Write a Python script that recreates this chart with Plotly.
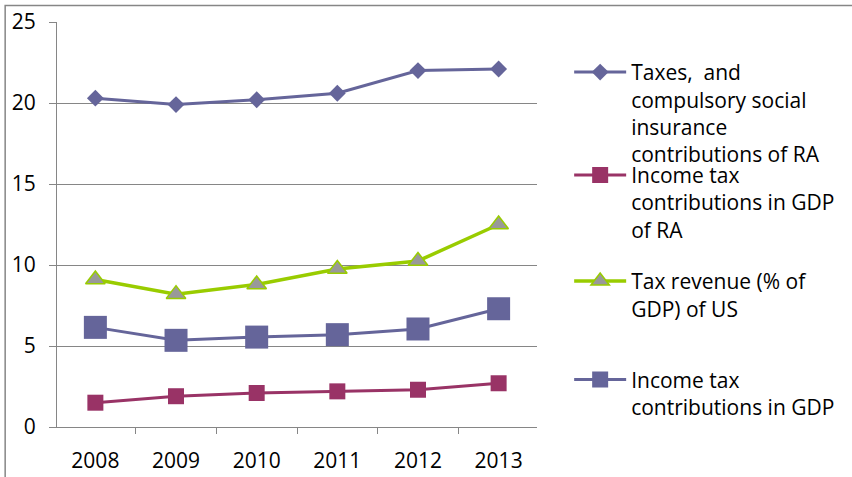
import plotly.graph_objects as go

years = ["2008", "2009", "2010", "2011", "2012", "2013"]
taxes_ra = [20.3, 19.9, 20.2, 20.6, 22.0, 22.1]
income_tax_ra = [1.5, 1.9, 2.1, 2.2, 2.3, 2.7]
tax_revenue_us = [9.1, 8.2, 8.8, 9.75, 10.25, 12.5]
income_tax_gdp = [6.15, 5.35, 5.55, 5.7, 6.05, 7.3]

names = [
    "Taxes,  and<br>compulsory social<br>insurance<br>contributions of RA",
    "Income tax<br>contributions in GDP<br>of RA",
    "Tax revenue (% of<br>GDP) of US",
    "Income tax<br>contributions in GDP",
]

FONT = "Open Sans"
FS = 21
fig = go.Figure()
fig.add_trace(go.Scatter(
    x=years, y=taxes_ra, name=names[0], mode="lines+markers",
    line=dict(color="#65659A", width=3),
    marker=dict(symbol="diamond", size=13, color="#65659A"),
    legend="legend"))
fig.add_trace(go.Scatter(
    x=years, y=income_tax_ra, name=names[1], mode="lines+markers",
    line=dict(color="#993366", width=3),
    marker=dict(symbol="square", size=16, color="#993366"),
    legend="legend2"))
fig.add_trace(go.Scatter(
    x=years, y=tax_revenue_us, name=names[2], mode="lines+markers",
    line=dict(color="#99CC00", width=3.5),
    marker=dict(symbol="triangle-up", size=17, color="#999999",
                line=dict(color="#99CC00", width=1.5)),
    legend="legend3"))
fig.add_trace(go.Scatter(
    x=years, y=income_tax_gdp, name=names[3], mode="lines+markers",
    line=dict(color="#65659A", width=3),
    marker=dict(symbol="square", size=23, color="#65659A"),
    legend="legend4"))

def leg(y):
    return dict(x=1.067, y=y, xanchor="left", yanchor="top", valign="top",
                bgcolor="rgba(0,0,0,0)", font=dict(family=FONT, size=FS, color="#000000"),
                itemwidth=52, tracegroupgap=0)

fig.update_layout(
    width=852, height=477,
    margin=dict(l=57, r=306, t=22, b=50),
    paper_bgcolor="white", plot_bgcolor="white",
    font=dict(family=FONT, size=FS, color="#000000"),
    showlegend=True,
    legend=leg(0.926),
    legend2=leg(0.672),
    legend3=leg(0.41),
    legend4=leg(0.167),
    xaxis=dict(type="category", showgrid=False, showline=True, linecolor="#868686",
               linewidth=1, ticks="outside", tickson="boundaries", ticklen=6,
               tickcolor="#868686", tickfont=dict(family=FONT, size=FS),
               ticklabelstandoff=15, automargin=False),
    yaxis=dict(range=[0, 25], dtick=5, showgrid=True, gridcolor="#868686",
               gridwidth=1, showline=True, linecolor="#868686", linewidth=1,
               ticks="outside", ticklen=7, tickcolor="#868686",
               tickfont=dict(family=FONT, size=FS), ticklabelstandoff=9,
               zeroline=False, automargin=False),
    shapes=[dict(type="rect", xref="paper", yref="paper",
                 x0=-0.108, x1=1.8, y0=-0.3, y1=1.041,
                 line=dict(color="#868686", width=1.5), layer="below")],
)

fig.write_html("out.html", config={"displayModeBar": False},
               post_script="document.body.style.margin='0';document.body.style.padding='0';")
